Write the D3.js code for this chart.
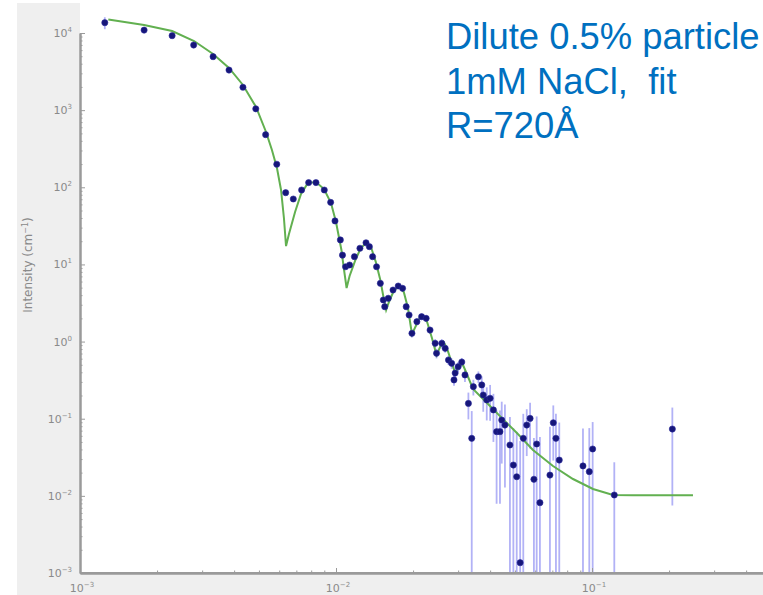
<!DOCTYPE html>
<html><head><meta charset="utf-8">
<script src="https://cdn.jsdelivr.net/npm/d3@7"></script>
<style>
html,body{margin:0;padding:0;background:#fff;}
svg{display:block;}
text{white-space:pre;}
</style></head>
<body>
<svg id="chart" width="763" height="595"></svg>
<script>
// ---- data ----
const qData = [1.25e-3,1.78e-3,2.29e-3,2.78e-3,3.31e-3,3.82e-3,4.33e-3,4.86e-3,5.31e-3,5.87e-3,
  6.36e-3,6.81e-3,7.34e-3,7.82e-3,8.35e-3,9.00e-3,9.53e-3,9.91e-3,1.04e-2,1.06e-2,
  1.09e-2,1.13e-2,1.18e-2,1.24e-2,1.31e-2,1.35e-2,1.39e-2,1.44e-2,1.49e-2,1.53e-2,
  1.55e-2,1.60e-2,1.67e-2,1.75e-2,1.82e-2,1.88e-2,1.93e-2,1.98e-2,2.07e-2,2.16e-2,
  2.25e-2,2.33e-2,2.44e-2,2.47e-2,2.59e-2,2.67e-2,2.75e-2,2.83e-2,2.92e-2,2.89e-2,
  3.00e-2,3.10e-2,3.19e-2,3.29e-2,3.39e-2,3.44e-2,3.60e-2,3.71e-2,3.76e-2,3.88e-2,
  4.00e-2,4.12e-2,4.24e-2,4.37e-2,4.44e-2,4.57e-2,4.78e-2,4.93e-2,5.08e-2,5.24e-2,
  5.39e-2,5.56e-2,5.73e-2,5.93e-2,6.08e-2,6.26e-2,6.85e-2,7.06e-2,7.23e-2,7.45e-2,
  9.22e-2,9.76e-2,0.1006,0.1222,0.206];
const iData = [1.36e4,1.09e4,9.23e3,6.98e3,4.93e3,3.31e3,1.98e3,1.04e3,481,199,
  85.1,70.5,92.2,115,115,92.2,63.8,36.6,20.8,13.2,
  9.33,9.83,12.6,16.2,19.1,17.0,12.6,9.33,5.69,3.46,
  2.83,3.64,4.66,5.25,4.90,2.83,2.21,1.28,1.81,2.10,
  2.00,1.41,0.95,0.705,0.95,0.818,0.577,0.523,0.391,0.318,
  0.472,0.543,0.369,0.158,0.0557,0.26,0.35,0.274,0.203,0.175,
  0.184,0.13,0.0679,0.0679,0.0962,0.0828,0.0456,0.0251,0.0177,0.00136,
  0.0557,0.0828,0.101,0.0164,0.047,0.00815,0.0186,0.0887,0.0557,0.0291,
  0.0244,0.0206,0.0405,0.01026,0.0735];
const errData = [2400,800,600,400,250,150,90,50,25,10,
  5,4,4,5,5,4,3,2,1.2,0.9,
  0.7,0.7,0.8,1,1.1,1,0.8,0.6,0.4,0.3,
  0.25,0.3,0.35,0.4,0.4,0.25,0.2,0.15,0.18,0.2,
  0.2,0.15,0.12,0.1,0.12,0.1,0.08,0.08,0.07,0.05,
  0.07,0.07,0.07,0.06,0.07,0.06,0.06,0.08,0.08,0.08,
  0.09,0.08,0.06,0.06,0.07,0.07,0.06,0.05,0.05,0.05,
  0.06,0.05,0.06,0.04,0.06,0.05,0.06,0.06,0.06,0.06,
  0.05,0.055,0.05,0.017,0.066];
const fitQ = [1.29e-3,1.78e-3,2.29e-3,2.79e-3,3.31e-3,3.82e-3,4.33e-3,4.87e-3,5.33e-3,5.62e-3,
  5.88e-3,6.10e-3,6.26e-3,6.38e-3,6.55e-3,6.92e-3,7.30e-3,7.77e-3,8.35e-3,8.98e-3,
  9.56e-3,1.00e-2,1.05e-2,1.075e-2,1.10e-2,1.13e-2,1.19e-2,1.25e-2,1.31e-2,1.37e-2,
  1.43e-2,1.49e-2,1.53e-2,1.57e-2,1.61e-2,1.68e-2,1.76e-2,1.84e-2,1.91e-2,1.98e-2,
  2.05e-2,2.13e-2,2.19e-2,2.27e-2,2.37e-2,2.47e-2,2.55e-2,2.63e-2,2.71e-2,2.81e-2,
  2.92e-2,3.00e-2,3.11e-2,3.22e-2,3.43e-2,3.89e-2,4.37e-2,5.09e-2,5.88e-2,7.04e-2,
  8.43e-2,0.1009,0.1208,0.1446,0.248];
const fitI = [1.50e4,1.27e4,1.06e4,7.87e3,5.34e3,3.52e3,2.12e3,1.10e3,521,304,
  178,92.2,40.0,17.3,24.8,47.8,81.8,114,117,95.0,
  62.6,35.5,15.4,8.47,4.95,7.08,11.4,16.3,18.9,16.8,
  10.8,6.28,3.90,2.57,3.26,4.52,5.25,4.39,2.72,1.25,
  1.59,2.08,2.14,1.79,1.11,0.670,0.850,0.987,0.825,0.577,
  0.391,0.454,0.527,0.403,0.243,0.160,0.108,0.0653,0.0393,0.0244,
  0.01653,0.01227,0.01026,0.0102,0.0102];
const yTickExps = [-3,-2,-1,0,1,2,3,4];
const xTickExps = [-3,-2,-1];
const yLabel = "Intensity (cm", yLabelSup = "-1", yLabelEnd = ")";
const noteLines = ["Dilute 0.5% particle", "1mM NaCl,  fit", "R=720Å"];

// ---- layout ----
const svg = d3.select("#chart");
const W = 763, H = 595;
const left = 80, bottom = 573;
const x = d3.scaleLog().domain([1e-3, 1]).range([left, left + 768]);
const y = d3.scaleLog().domain([1e-3, 1e4]).range([bottom, 33]);

// backgrounds
svg.append("rect").attr("x",0).attr("y",0).attr("width",W).attr("height",H).attr("fill","#fff");
svg.append("rect").attr("x",17).attr("y",3).attr("width",left-17).attr("height",H-3).attr("fill","#efefef");
svg.append("rect").attr("x",17).attr("y",bottom).attr("width",W-17).attr("height",H-bottom).attr("fill","#efefef");

svg.append("defs").append("clipPath").attr("id","plotclip")
  .append("rect").attr("x",left).attr("y",0).attr("width",W-left).attr("height",bottom);

const plot = svg.append("g").attr("clip-path","url(#plotclip)");

// error bars
const pts = qData.map((q,i)=>({q, I:iData[i], e:errData[i]}));
plot.append("g").selectAll("line").data(pts).join("line")
  .attr("x1",d=>x(d.q)).attr("x2",d=>x(d.q))
  .attr("y1",d=>y(d.I + d.e))
  .attr("y2",d=> d.I - d.e > 0 ? y(d.I - d.e) : bottom + 5)
  .attr("stroke","#7f7ff0").attr("stroke-opacity",0.6).attr("stroke-width",1.8);

// fit line
const fitPts = fitQ.map((q,i)=>[q, fitI[i]]);
plot.append("path").datum(fitPts)
  .attr("d", d3.line().x(d=>x(d[0])).y(d=>y(d[1])))
  .attr("fill","none").attr("stroke","#62b050").attr("stroke-width",2);

// points
plot.append("g").selectAll("circle").data(pts).join("circle")
  .attr("cx",d=>x(d.q)).attr("cy",d=>y(d.I)).attr("r",3.1)
  .attr("fill","#16167a").attr("stroke","#2a2a9a").attr("stroke-width",0.6);

// axes
const axisCol = "#9a9a9a";
const yMinor = [];
for (let e=-3; e<4; e++) for (let m=2; m<10; m++) yMinor.push(m*Math.pow(10,e));
const xMinor = [];
for (let e=-3; e<0; e++) for (let m=2; m<10; m++) xMinor.push(m*Math.pow(10,e));

const yAx = svg.append("g").attr("transform",`translate(${left},0)`)
  .call(d3.axisLeft(y).tickValues(yTickExps.map(e=>Math.pow(10,e))).tickFormat("").tickSizeInner(-5).tickSizeOuter(0));
const yAxMinor = svg.append("g").attr("transform",`translate(${left},0)`)
  .call(d3.axisLeft(y).tickValues(yMinor).tickFormat("").tickSizeInner(-2.5).tickSizeOuter(0));
const xAx = svg.append("g").attr("transform",`translate(0,${bottom})`)
  .call(d3.axisBottom(x).tickValues(xTickExps.map(e=>Math.pow(10,e))).tickFormat("").tickSizeInner(-5).tickSizeOuter(0));
const xAxMinor = svg.append("g").attr("transform",`translate(0,${bottom})`)
  .call(d3.axisBottom(x).tickValues(xMinor).tickFormat("").tickSizeInner(-2.5).tickSizeOuter(0));
[yAx,yAxMinor,xAx,xAxMinor].forEach(g=>{
  g.selectAll("path").attr("stroke",axisCol).attr("stroke-width",2);
  g.selectAll("line").attr("stroke",axisCol).attr("stroke-width",1);
});
svg.append("line").attr("x1",left).attr("x2",W).attr("y1",bottom).attr("y2",bottom)
  .attr("stroke",axisCol).attr("stroke-width",2);

// tick labels with superscripts
const labCol = "#8a8a8a";
yTickExps.forEach(e=>{
  const t = svg.append("text").attr("x",left-8).attr("y",y(Math.pow(10,e))+4)
    .attr("text-anchor","end").attr("font-family","DejaVu Sans, sans-serif")
    .attr("font-size",11).attr("fill",labCol);
  t.append("tspan").text("10");
  t.append("tspan").attr("dy",-5).attr("font-size",7).text(String(e).replace("-","\u2212"));
});
xTickExps.forEach(e=>{
  const t = svg.append("text").attr("x",x(Math.pow(10,e))+2).attr("y",bottom+19)
    .attr("text-anchor","middle").attr("font-family","DejaVu Sans, sans-serif")
    .attr("font-size",11).attr("fill",labCol);
  t.append("tspan").text("10");
  t.append("tspan").attr("dy",-5).attr("font-size",7).text(String(e).replace("-","\u2212"));
});

// y axis title
const yt = svg.append("text").attr("transform","translate(32,265) rotate(-90)")
  .attr("text-anchor","middle").attr("font-family","DejaVu Sans, sans-serif")
  .attr("font-size",12).attr("fill","#8a8a8a");
yt.append("tspan").text(yLabel);
yt.append("tspan").attr("dy",-4).attr("font-size",8).text(yLabelSup.replace("-","\u2212"));
yt.append("tspan").attr("dy",4).text(yLabelEnd);

// annotation text
noteLines.forEach((s,i)=>{
  svg.append("text").attr("x",446).attr("y",49 + i*44.5)
    .attr("font-family","Liberation Sans, Arial, sans-serif").attr("font-size",36.4)
    .attr("fill","#0070c0").text(s);
});
</script>
</body></html>
